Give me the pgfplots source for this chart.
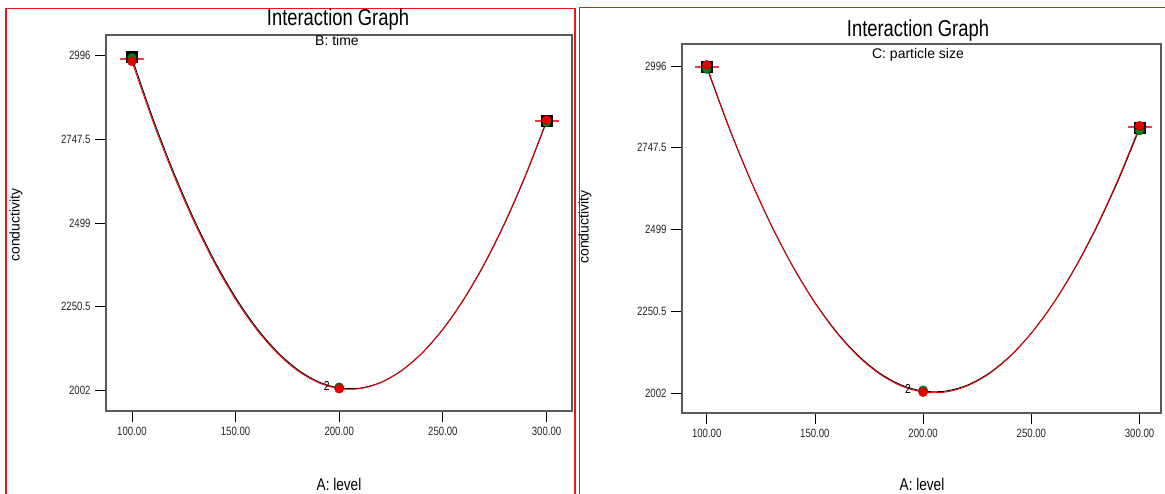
\documentclass[border=0pt]{standalone}
\usepackage{pgfplots}
\pgfplotsset{compat=1.18}
\usepackage{fontspec}
\setmainfont{Liberation Sans}
\newfontfamily\nar[FakeStretch=0.8]{Liberation Sans}

\definecolor{axgray}{RGB}{90,90,90}
\definecolor{frame}{RGB}{240,20,20}
\definecolor{ptred}{RGB}{235,0,0}
\definecolor{ptgreen}{RGB}{0,130,30}
\definecolor{lsd}{RGB}{240,60,60}

\pgfplotsset{
  igraph/.style={
    scale only axis,
    anchor=south west,
    axis line style={axgray, line width=1.4pt},
    tick align=outside,
    major tick length=11pt,
    tick style={black, line width=0.8pt},
    xtick pos=bottom, ytick pos=left,
    xtick={100,150,200,250,300},
    xticklabels={100.00,150.00,200.00,250.00,300.00},
    ytick={2002,2250.5,2499,2747.5,2996},
    yticklabels={2002,2250.5,2499,2747.5,2996},
    ticklabel style={font=\nar\fontsize{12}{12}\selectfont, text=black!85},
    xticklabel style={yshift=-2pt},
    yticklabel style={xshift=-1pt},
    clip=false,
  },
  lowline/.style={black, line width=0.9pt, smooth, no marks},
  highline/.style={ptred, line width=0.9pt, smooth, no marks},
  sq/.style={only marks, mark=square*, mark size=5.5pt, mark options={fill=black, draw=black}},
  gdot/.style={only marks, mark=*, mark size=4.6pt, mark options={fill=ptgreen, draw=ptgreen!60!black}},
  rdot/.style={only marks, mark=*, mark size=4.6pt, mark options={fill=ptred, draw=ptred!80!black}},
  lsdbar/.style={only marks, mark=-, mark size=12pt, mark options={draw=lsd, line width=2.2pt}},
}

\begin{document}
\begin{tikzpicture}
\useasboundingbox (0pt,0pt) rectangle (1165pt,493pt);

% panel frames, drawn as thin filled strips
\fill[frame] (5pt,-5pt) rectangle (6.5pt,485pt);
\fill[frame] (5pt,483.5pt) rectangle (575.5pt,485pt);
\fill[frame] (574pt,-5pt) rectangle (575.5pt,485pt);
\fill[frame] (578.5pt,-5pt) rectangle (580pt,486pt);
\fill[frame] (578.5pt,484.5pt) rectangle (1170pt,486pt);

% ---------------- left panel: B: time ----------------
\begin{axis}[igraph, at={(106pt,82pt)}, width=466pt, height=376pt,
  xmin=87.5, xmax=312.3, ymin=1939.5, ymax=3058]
  \addplot[lowline] coordinates {
    (100,2990) (110,2812.0) (120,2651.7) (130,2509.1) (140,2384.3) (150,2277.3)
    (160,2187.9) (170,2116.3) (180,2062.5) (190,2026.4) (200,2008) (210,2007.4)
    (220,2024.5) (230,2059.3) (240,2111.9) (250,2182.3) (260,2270.3) (270,2376.1)
    (280,2499.7) (290,2641.0) (300,2800)};
  \addplot[highline] coordinates {
    (100,2980) (110,2803.0) (120,2643.5) (130,2501.9) (140,2377.9) (150,2271.6)
    (160,2183.1) (170,2112.3) (180,2059.1) (190,2023.7) (200,2006) (210,2006.0)
    (220,2023.7) (230,2059.2) (240,2112.3) (250,2183.1) (260,2271.7) (270,2378.0)
    (280,2501.9) (290,2643.7) (300,2803)};
  \addplot[lsdbar] coordinates {(100,2986) (300,2803)};
  \addplot[sq] coordinates {(100,2992) (300,2804)};
  \addplot[gdot] coordinates {(100,2990) (200,2010) (300,2798)};
  \addplot[rdot] coordinates {(100,2980) (200,2006) (300,2805)};
  \node[font=\nar\fontsize{13}{13}\selectfont] at (axis cs:194,2014) {2};
\end{axis}
\node[font=\nar\fontsize{23}{24}\selectfont] at (338pt,473pt) {Interaction Graph};
\node[font=\fontsize{14}{15}\selectfont] at (337pt,452pt) {B: time};
\node[font=\fontsize{14}{16}\selectfont, rotate=90] at (16pt,268pt) {conductivity};
\node[font=\nar\fontsize{17}{18}\selectfont] at (339pt,9pt) {A: level};

% ---------------- right panel: C: particle size ----------------
\begin{axis}[igraph, at={(682pt,80pt)}, width=479pt, height=369pt,
  xmin=88.6, xmax=309.9, ymin=1941.4, ymax=3062.7]
  \addplot[lowline] coordinates {
    (100,2992) (110,2813.4) (120,2652.6) (130,2509.7) (140,2384.6) (150,2277.3)
    (160,2187.8) (170,2116.1) (180,2062.2) (190,2026.2) (200,2008) (210,2007.6)
    (220,2025.0) (230,2060.3) (240,2113.4) (250,2184.3) (260,2273.0) (270,2379.5)
    (280,2503.8) (290,2646.0) (300,2806)};
  \addplot[highline] coordinates {
    (100,2996) (110,2816.0) (120,2654.0) (130,2509.9) (140,2383.8) (150,2275.8)
    (160,2185.6) (170,2113.5) (180,2059.4) (190,2023.2) (200,2005) (210,2004.8)
    (220,2022.6) (230,2058.3) (240,2112.0) (250,2183.8) (260,2273.4) (270,2381.1)
    (280,2506.8) (290,2650.4) (300,2812)};
  \addplot[lsdbar] coordinates {(100,2994) (300,2810)};
  \addplot[sq] coordinates {(100,2993) (300,2808)};
  \addplot[gdot] coordinates {(100,2987) (200,2010) (300,2800)};
  \addplot[rdot] coordinates {(100,2999) (200,2005) (300,2814)};
  \node[font=\nar\fontsize{13}{13}\selectfont] at (axis cs:193,2014) {2};
\end{axis}
\node[font=\nar\fontsize{23}{24}\selectfont] at (918pt,462pt) {Interaction Graph};
\node[font=\fontsize{14}{15}\selectfont] at (918pt,438pt) {C: particle size};
\node[font=\fontsize{14}{16}\selectfont, rotate=90] at (585pt,266pt) {conductivity};
\node[font=\nar\fontsize{17}{18}\selectfont] at (922pt,9pt) {A: level};
\end{tikzpicture}
\end{document}
